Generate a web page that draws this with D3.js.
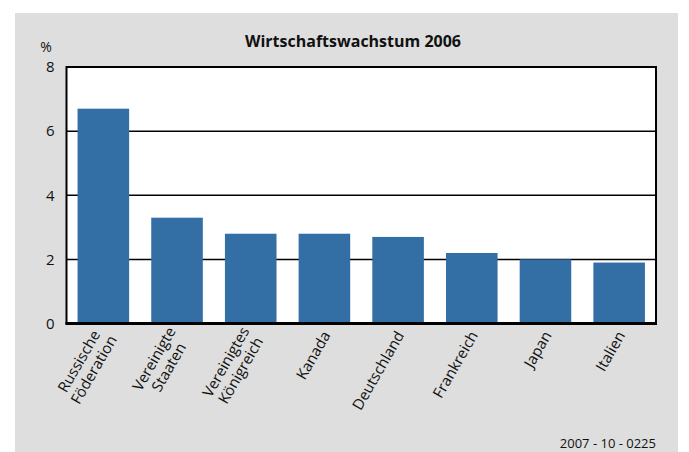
<!DOCTYPE html>
<html>
<head>
<meta charset="utf-8">
<script src="https://cdn.jsdelivr.net/npm/d3@7"></script>
<style>
  body { margin: 0; background: #fff; }
  svg { display: block; font-family: "Open Sans", sans-serif; }
</style>
</head>
<body>
<div id="chart"></div>
<script>
// data
const countries = [
  ['Russische', 'Föderation'],
  ['Vereinigte', 'Staaten'],
  ['Vereinigtes', 'Königreich'],
  ['Kanada'],
  ['Deutschland'],
  ['Frankreich'],
  ['Japan'],
  ['Italien']
];
const growth = [6.7, 3.3, 2.8, 2.8, 2.7, 2.2, 2.0, 1.9];
const yTicks = [0, 2, 4, 6, 8];

const W = 689, H = 452;
const frame = { left: 66.5, top: 67, right: 656, bottom: 323.5 };

const svg = d3.select('#chart').append('svg')
  .attr('width', W).attr('height', H);

// grey panel
svg.append('rect')
  .attr('x', 15).attr('y', 13)
  .attr('width', 663).attr('height', H - 13)
  .attr('fill', '#dedede');

svg.append('rect')
  .attr('x', frame.left).attr('y', frame.top)
  .attr('width', frame.right - frame.left)
  .attr('height', frame.bottom - frame.top)
  .attr('fill', '#fff');

const x = d3.scaleBand()
  .domain(d3.range(countries.length))
  .range([frame.left, frame.right])
  .paddingInner(0.3)
  .paddingOuter(0.15);

const y = d3.scaleLinear()
  .domain([0, 8])
  .range([frame.bottom, frame.top]);

// gridlines
svg.append('g')
  .selectAll('line')
  .data(yTicks.filter(t => t > 0 && t < 8))
  .enter().append('line')
  .attr('x1', frame.left).attr('x2', frame.right)
  .attr('y1', d => y(d)).attr('y2', d => y(d))
  .attr('stroke', '#000').attr('stroke-width', 1.5);

// bars
svg.append('g')
  .selectAll('rect')
  .data(growth)
  .enter().append('rect')
  .attr('x', (d, i) => x(i))
  .attr('y', d => y(d))
  .attr('width', x.bandwidth())
  .attr('height', d => y(0) - y(d))
  .attr('fill', '#336fa5');

// frame
svg.append('rect')
  .attr('x', frame.left).attr('y', frame.top)
  .attr('width', frame.right - frame.left)
  .attr('height', frame.bottom - frame.top)
  .attr('fill', 'none')
  .attr('stroke', '#000').attr('stroke-width', 2);

svg.append('line')
  .attr('x1', frame.left - 1).attr('x2', frame.right + 1)
  .attr('y1', frame.bottom).attr('y2', frame.bottom)
  .attr('stroke', '#000').attr('stroke-width', 3);

// y axis labels
const yAxis = d3.axisLeft(y).tickValues(yTicks).tickSize(0).tickPadding(12);
svg.append('g')
  .attr('transform', `translate(${frame.left},0)`)
  .call(yAxis)
  .call(g => g.select('.domain').remove())
  .call(g => g.selectAll('text')
    .attr('font-family', '"Open Sans", sans-serif')
    .attr('font-size', 15)
    .attr('fill', '#111'));

svg.append('text')
  .attr('x', 46).attr('y', 52)
  .attr('text-anchor', 'middle')
  .attr('font-size', 14)
  .attr('fill', '#111')
  .text('%');

// title
svg.append('text')
  .attr('x', 353).attr('y', 47)
  .attr('text-anchor', 'middle')
  .attr('font-size', 16)
  .attr('font-weight', 'bold')
  .attr('fill', '#111')
  .text('Wirtschaftswachstum 2006');

// category labels, rotated
const lineH = 17;
const labels = svg.append('g')
  .selectAll('g')
  .data(countries)
  .enter().append('g')
  .attr('transform', (d, i) => `translate(${x(i) + x.bandwidth() / 2 + 2},${frame.bottom + 9}) rotate(-60)`);

labels.each(function(lines) {
  const g = d3.select(this);
  const texts = lines.map((t, j) => g.append('text')
    .attr('text-anchor', 'end')
    .attr('font-size', 15)
    .attr('fill', '#111')
    .attr('y', (j - (lines.length - 1) / 2) * lineH)
    .attr('dy', '0.35em')
    .text(t));
  const widths = texts.map(t => t.node().getComputedTextLength());
  const maxW = d3.max(widths);
  texts.forEach((t, j) => t.attr('x', -(maxW - widths[j]) / 2));
});

// footer
svg.append('text')
  .attr('x', 656).attr('y', 448)
  .attr('text-anchor', 'end')
  .attr('font-size', 13)
  .attr('fill', '#111')
  .text('2007 - 10 - 0225');
</script>
</body>
</html>
